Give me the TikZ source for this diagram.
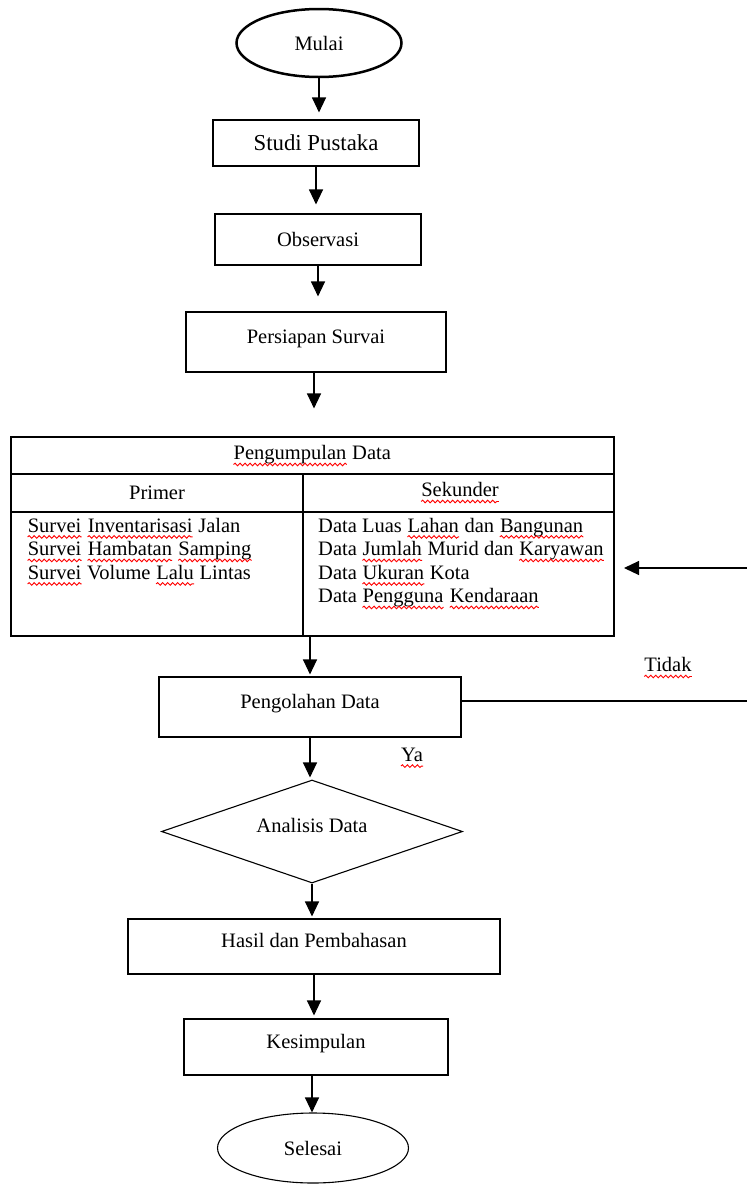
\documentclass[tikz,border=0pt]{standalone}
\usepackage{fontspec}
\setmainfont{Liberation Serif}
\usepackage{xcolor}
\usepackage{tikz}
\usetikzlibrary{arrows.meta,shapes.geometric,decorations.pathmorphing}
\newcommand{\salah}[1]{\tikz[baseline=(w.base)]{\node[inner sep=0pt] (w) {#1};
    \draw[red,line width=0.9pt,decorate,decoration={snake,amplitude=1.3pt,segment length=5pt}]
      ([yshift=-4.5pt]w.base west) -- ([yshift=-4.5pt]w.base east);}}

\begin{document}
\begin{tikzpicture}[x=1pt,y=-1pt,font=\fontsize{20.5}{23.5}\selectfont,
      kotak/.style={draw,line width=1.1pt,inner sep=0pt,align=center},
      atas/.style={text height=14pt,text depth=12pt},
      panah/.style={-{Triangle[width=14pt,length=15pt]},line width=1.1pt},
      garis/.style={line width=1.1pt}]
    \useasboundingbox (0,0) rectangle (747,1184);
    \node[kotak,ellipse,line width=2.5pt,minimum width=165pt,minimum height=68pt] (mulai) at (319,43) {Mulai};
    \node[kotak,minimum width=206pt,minimum height=46pt,font=\fontsize{22.8}{26}\selectfont] (studi) at (316,143) {Studi Pustaka};
    \node[kotak,minimum width=206pt,minimum height=51pt] (obs) at (318,239.5) {Observasi};
    \node[kotak,atas,minimum width=260pt,minimum height=60pt] (siap) at (316,342) {Persiapan Survai};
    % tabel pengumpulan data
    \node[draw,line width=1.1pt,minimum width=603pt,minimum height=199pt,inner sep=0pt] (tabel) at (312.5,536.5) {};
    \draw[garis] (11,474) -- (614,474);
    \draw[garis] (11,512) -- (614,512);
    \draw[garis] (303,474) -- (303,636);
    \node (judul) at (312,456) {\salah{Pengumpulan} Data};
    \node (primer) at (157,493) {Primer};
    \node (sekunder) at (460,493) {\salah{Sekunder}};
    \node[anchor=north west,align=left,inner sep=0pt] (isiprimer) at (27,518)
      {\salah{Survei} \salah{Inventarisasi} Jalan\\\salah{Survei} \salah{Hambatan} \salah{Samping}\\\salah{Survei} Volume \salah{Lalu} Lintas};
    \node[anchor=north west,align=left,inner sep=0pt] (isisekunder) at (318,518)
      {Data Luas \salah{Lahan} dan \salah{Bangunan}\\Data \salah{Jumlah} Murid dan \salah{Karyawan}\\Data \salah{Ukuran} Kota\\Data \salah{Pengguna} \salah{Kendaraan}};
    \node[kotak,atas,minimum width=302pt,minimum height=60pt] (olah) at (310,707) {Pengolahan Data};
    \node[kotak,diamond,aspect=2.9,atas,minimum width=301pt,minimum height=103pt] (analisis) at (312,831.5) {Analisis Data};
    \node[kotak,atas,minimum width=372pt,minimum height=55pt] (hasil) at (314,946.5) {Hasil dan Pembahasan};
    \node[kotak,atas,minimum width=264pt,minimum height=56pt] (simpul) at (316,1047) {Kesimpulan};
    \node[kotak,ellipse,minimum width=191pt,minimum height=70pt] (selesai) at (313,1148) {Selesai};
    \node (tidak) at (668,668) {\salah{Tidak}};
    \node (ya) at (412,758) {\salah{Ya}};
    \coordinate (tepiA) at (747,568);
    \coordinate (ujung) at (624,568);
    \coordinate (tepiB) at (747,701);
    % panah
    \draw[panah,shorten >=7pt] (mulai.south) -- (mulai.south |- studi.north);
    \draw[panah,shorten >=9pt] (studi.south) -- (studi.south |- obs.north);
    \draw[panah,shorten >=15pt] (obs.south) -- (obs.south |- siap.north);
    \draw[panah,shorten >=28pt] ([xshift=-2pt]siap.south) -- ([xshift=-2pt]siap.south |- tabel.north);
    \draw[panah,shorten >=2pt] (olah.north |- tabel.south) -- (olah.north);
    \draw[panah,shorten >=2pt] (olah.south) -- (olah.south |- analisis.north);
    \draw[panah,shorten >=2pt] (analisis.south) -- (analisis.south |- hasil.north);
    \draw[panah,shorten >=3pt] (hasil.south) -- (hasil.south |- simpul.north);
    \draw[panah] ([xshift=-4pt]simpul.south) -- ([xshift=-4pt]simpul.south |- selesai.north);
    \draw[panah] (tepiA) -- (ujung);
    \draw[garis] (olah.east |- tepiB) -- (tepiB);
\end{tikzpicture}
\end{document}
